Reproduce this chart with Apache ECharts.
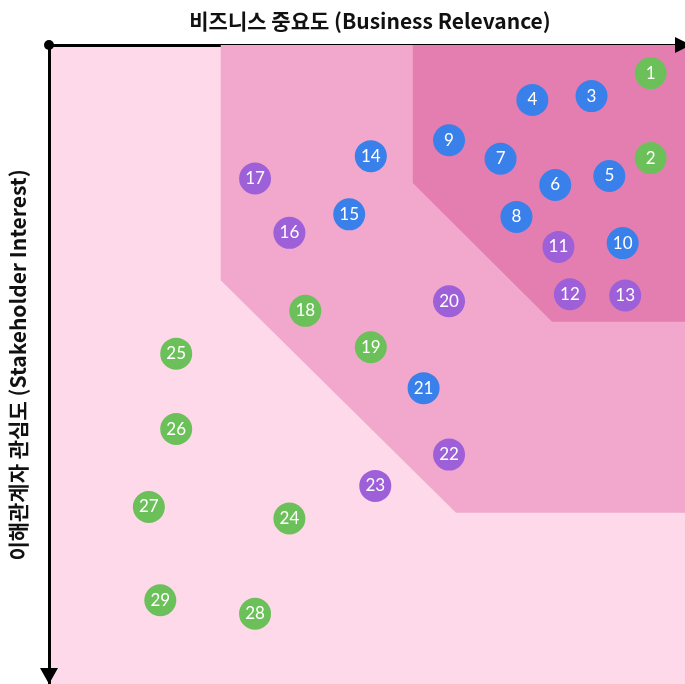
<!DOCTYPE html>
<html>
<head>
<meta charset="utf-8">
<script src="https://cdn.jsdelivr.net/npm/echarts@6/dist/echarts.min.js"></script>
<style>
  html, body { margin: 0; padding: 0; background: #fff; }
  #chart { width: 685px; height: 684px; }
</style>
</head>
<body>
<div id="chart"></div>
<script>
// 이슈 번호, 비즈니스 중요도(x), 이해관계자 관심도(y, 위에서부터), 분류
var issueIds = [1, 2, 3, 4, 5, 6, 7, 8, 9, 10, 11, 12, 13, 14, 15, 16, 17, 18, 19, 20, 21, 22, 23, 24, 25, 26, 27, 28, 29];
var relevance = [94.6, 94.6, 85.3, 76.0, 88.1, 79.6, 71.0, 73.5, 62.9, 90.2, 80.1, 81.9, 90.6, 50.6, 47.2, 37.8, 32.4, 40.3, 50.6, 62.9, 58.9, 62.9, 51.3, 37.8, 20.0, 20.0, 15.7, 32.4, 17.5];
var interest = [4.4, 17.7, 8.0, 8.6, 20.5, 21.9, 17.8, 26.9, 14.9, 31.0, 31.6, 39.0, 39.2, 17.4, 26.5, 29.4, 20.9, 41.6, 47.3, 40.1, 53.7, 64.1, 69.0, 74.1, 48.3, 60.1, 72.3, 89.0, 86.9];
var groups = ['g', 'g', 'b', 'b', 'b', 'b', 'b', 'b', 'b', 'b', 'p', 'p', 'p', 'b', 'b', 'p', 'p', 'g', 'g', 'p', 'b', 'p', 'p', 'g', 'g', 'g', 'g', 'g', 'g'];

// 배경 영역 (중간 / 진한 분홍)
var midZone = [[27.0, 0], [27.0, 36.8], [64.0, 73.2], [100, 73.2], [100, 0]];
var topZone = [[57.2, 0], [57.2, 21.6], [79.1, 43.3], [100, 43.3], [100, 0]];

var groupColors = { g: '#6cc05a', b: '#3a80ea', p: '#9d60d8' };

function zoneSeries(points, color) {
  return {
    type: 'custom',
    silent: true,
    z: 1,
    data: [0],
    renderItem: function (params, api) {
      return {
        type: 'polygon',
        shape: { points: points.map(function (p) { return api.coord(p); }) },
        style: { fill: color }
      };
    }
  };
}

var series = [zoneSeries(midZone, '#f1a8cc'), zoneSeries(topZone, '#e57eb0')];
['g', 'b', 'p'].forEach(function (g) {
  var data = [];
  for (var i = 0; i < issueIds.length; i++) {
    if (groups[i] === g) data.push([relevance[i], interest[i], issueIds[i]]);
  }
  series.push({
    type: 'scatter',
    z: 5,
    symbolSize: 32,
    itemStyle: { color: groupColors[g], opacity: 1 },
    label: {
      show: true,
      position: 'inside',
      color: '#fff',
      fontSize: 17,
      fontFamily: 'Lato',
      formatter: function (p) { return p.value[2]; }
    },
    data: data
  });
});

var chart = echarts.init(document.getElementById('chart'));
chart.setOption({
  animation: false,
  grid: {
    left: 49, top: 45, right: 0, bottom: 0,
    show: true, backgroundColor: '#fdd9ea', borderWidth: 0
  },
  title: [{
    text: '비즈니스 중요도 (Business Relevance)',
    left: 365, top: 6, textAlign: 'center',
    textStyle: { fontSize: 21, fontWeight: 'bold', color: '#111', fontFamily: 'Noto Sans CJK KR' }
  }],
  graphic: [{
    type: 'text',
    rotation: Math.PI / 2,
    x: 18, y: 365,
    style: {
      text: '이해관계자 관심도 (Stakeholder Interest)',
      fontSize: 21, fontWeight: 'bold', fill: '#111', fontFamily: 'Noto Sans CJK KR',
      align: 'center', verticalAlign: 'middle'
    }
  }, {
    // 축 화살표
    type: 'polygon', z: 100,
    shape: { points: [[675, 37], [691, 45], [675, 53]] },
    style: { fill: '#000' }
  }, {
    type: 'polygon', z: 100,
    shape: { points: [[40, 668], [49, 684], [58, 668]] },
    style: { fill: '#000' }
  }],
  xAxis: {
    type: 'value', position: 'top', min: 0, max: 100,
    splitLine: { show: false }, axisTick: { show: false }, axisLabel: { show: false },
    axisLine: { show: true, onZero: false, symbol: ['circle', 'none'], symbolSize: 10,
      lineStyle: { color: '#000', width: 3 } }
  },
  yAxis: {
    type: 'value', inverse: true, min: 0, max: 100,
    splitLine: { show: false }, axisTick: { show: false }, axisLabel: { show: false },
    axisLine: { show: true, onZero: false, symbol: 'none',
      lineStyle: { color: '#000', width: 3 } }
  },
  series: series
});
</script>
</body>
</html>
